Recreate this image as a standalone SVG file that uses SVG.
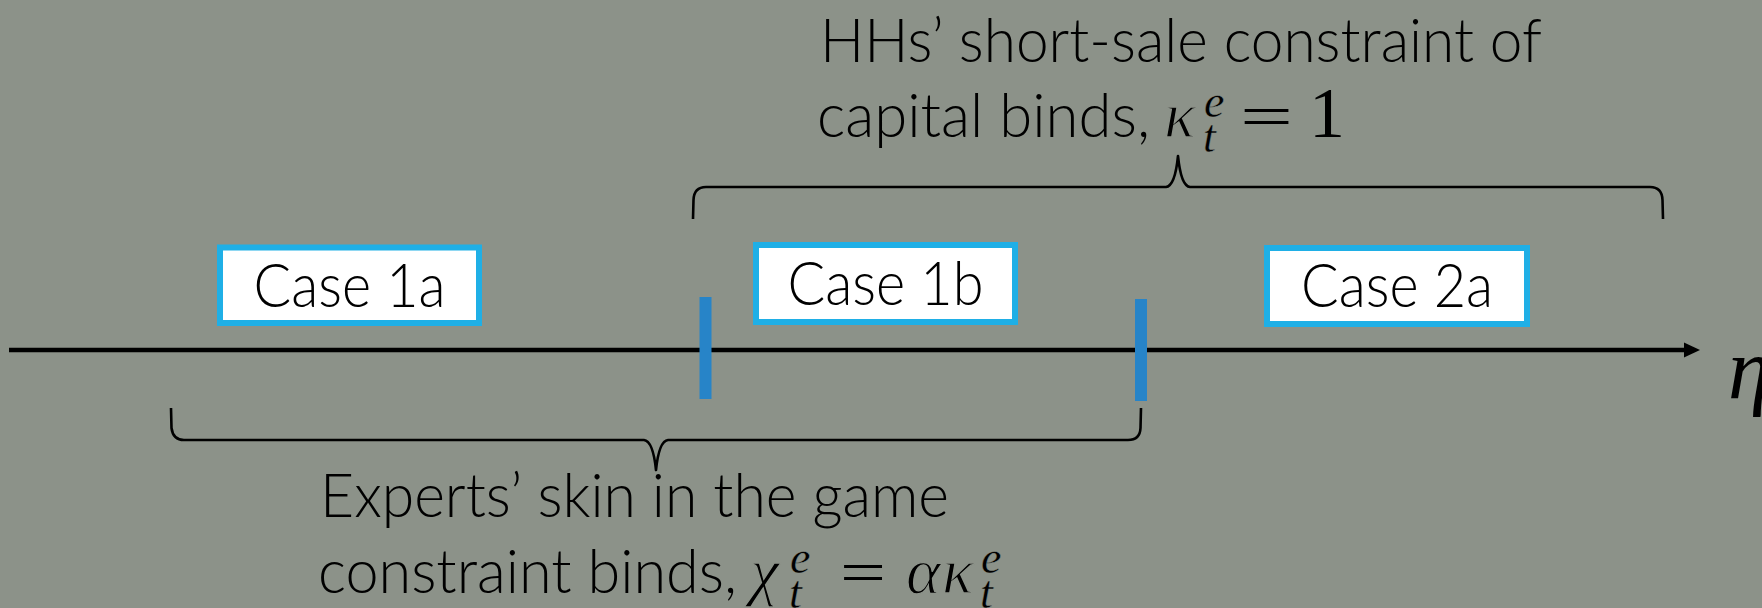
<svg xmlns="http://www.w3.org/2000/svg" width="1762" height="608" viewBox="0 0 1762 608">
  <defs>
    <style>
      .txt { font-family: Lato, "Open Sans", "Liberation Sans", sans-serif; font-weight: 300; font-size: 62px; fill: #000; }
      .math { font-family: "Liberation Serif", "DejaVu Serif", serif; font-style: italic; font-weight: normal; font-size: 66px; fill: #000; stroke: #8c9289; stroke-width: 1.4; }
      .mup { font-family: "Liberation Serif", "DejaVu Serif", serif; font-weight: normal; font-size: 62px; fill: #000; }
      .idx { font-family: "Liberation Serif", "DejaVu Serif", serif; font-style: italic; font-weight: normal; font-size: 46px; fill: #000; stroke: #8c9289; stroke-width: 0.4; }
      .case rect { fill: #fff; stroke: #1fafe6; stroke-width: 6; }
      .case text { text-anchor: middle; }
      .tick { fill: #2784c8; }
      .brace { fill: none; stroke: #000; stroke-width: 2.6; stroke-linejoin: round; }
    </style>
    <marker id="arrowhead" viewBox="0 0 16 16" refX="1" refY="8" markerWidth="16" markerHeight="16" markerUnits="userSpaceOnUse" orient="auto">
      <path d="M0,0.5 L16,8 L0,15.5 Z" fill="#000"/>
    </marker>
  </defs>

  <!-- background -->
  <rect x="0" y="0" width="1762" height="608" fill="#8c9289"/>

  <!-- axis, braces and boundary ticks -->
  <g id="connectors">
    <line x1="9" y1="350" x2="1685" y2="350" stroke="#000" stroke-width="4.5" marker-end="url(#arrowhead)"/>
    <path class="brace" d="M693,219 L693.5,200 Q694,187 706,187 L1166,187 Q1175,186 1178,156 Q1181,186 1190,187 L1650,187 Q1662,187 1662.5,200 L1663,219"/>
    <path class="brace" d="M171,408 L171.5,428 Q173,440 184,440 L644,440 Q653,441 656,470 Q659,441 668,440 L1128,440 Q1140,440 1140.5,428 L1141,408"/>
    <rect class="tick" x="699.5" y="297" width="12" height="102"/>
    <rect class="tick" x="1135" y="299" width="12" height="102"/>
  </g>

  <!-- regions on the axis -->
  <g id="case-1a" class="case">
    <rect x="220" y="247.5" width="259" height="75.5"/>
    <text class="txt" x="349.5" y="306.5" textLength="192" lengthAdjust="spacingAndGlyphs">Case 1a</text>
  </g>
  <g id="case-1b" class="case">
    <rect x="756" y="245" width="259" height="77"/>
    <text class="txt" x="885.5" y="305" textLength="196" lengthAdjust="spacingAndGlyphs">Case 1b</text>
  </g>
  <g id="case-2a" class="case">
    <rect x="1267" y="248" width="260" height="76"/>
    <text class="txt" x="1397" y="306.5" textLength="192" lengthAdjust="spacingAndGlyphs">Case 2a</text>
  </g>

  <!-- upper brace label -->
  <g id="label-households">
    <text class="txt" x="820" y="62" textLength="722" lengthAdjust="spacingAndGlyphs">HHs’ short-sale constraint of</text>
    <text class="txt" x="817" y="137" textLength="333" lengthAdjust="spacingAndGlyphs">capital binds,</text>
    <text class="math" x="1164" y="137">κ</text>
    <text class="idx" x="1204" y="117">e</text>
    <text class="idx" x="1203" y="152">t</text>
    <text class="mup" x="1240" y="137" textLength="53" lengthAdjust="spacingAndGlyphs">=</text>
    <text class="mup" x="1309" y="137" style="font-size: 72px;">1</text>
  </g>

  <!-- lower brace label -->
  <g id="label-experts">
    <text class="txt" x="320" y="517" textLength="629" lengthAdjust="spacingAndGlyphs">Experts’ skin in the game</text>
    <text class="txt" x="318" y="593" textLength="419" lengthAdjust="spacingAndGlyphs">constraint binds,</text>
    <text class="math" x="750" y="593">χ</text>
    <text class="idx" x="790" y="573">e</text>
    <text class="idx" x="789" y="608">t</text>
    <text class="mup" x="840" y="593" textLength="46" lengthAdjust="spacingAndGlyphs">=</text>
    <text class="math" x="906" y="593">α</text>
    <text class="math" x="942" y="593">κ</text>
    <text class="idx" x="981" y="573">e</text>
    <text class="idx" x="980" y="608">t</text>
  </g>

  <!-- axis variable -->
  <text id="axis-label" style="font-family: 'Liberation Serif', 'DejaVu Serif', serif; font-style: italic; font-size: 86px; fill: #000;" x="1728" y="398">η</text>
</svg>
